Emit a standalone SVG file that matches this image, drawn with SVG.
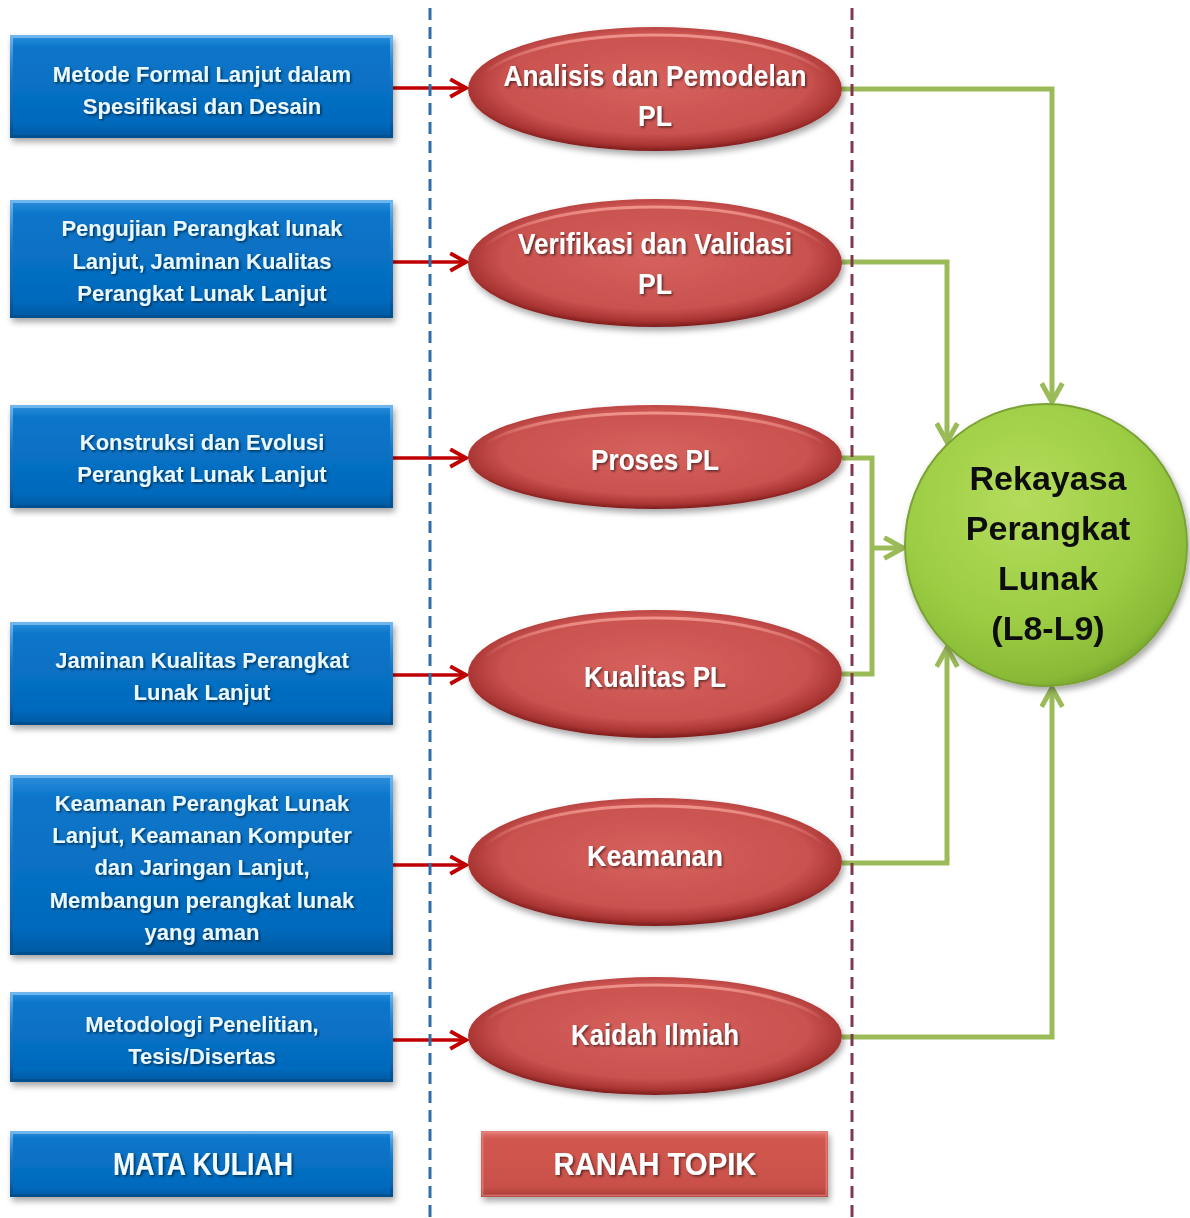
<svg xmlns="http://www.w3.org/2000/svg" width="1190" height="1218" viewBox="0 0 1190 1218">
  <defs>
    <style>
      .course rect.body { fill: url(#blueFill); }
      .course rect.rim { fill: none; stroke: url(#blueRim); stroke-width: 3; }
      .course text { font-family: "Liberation Sans", Arial, sans-serif; font-weight: bold; font-size: 22px; fill: #e9f7ff; text-anchor: middle; filter: url(#textShadow); }
      .topic ellipse.body { fill: url(#redFill); }
      .topic ellipse.rim { fill: none; stroke: url(#redRim); stroke-width: 3; }
      .topic text { font-family: "Liberation Sans", Arial, sans-serif; font-weight: bold; font-size: 29px; fill: #ffffff; text-anchor: middle; filter: url(#textShadow); }
      .legend text { font-family: "Liberation Sans", Arial, sans-serif; font-weight: bold; font-size: 31px; fill: #ffffff; text-anchor: middle; filter: url(#textShadow); }
      .hub text { font-family: "Liberation Sans", Arial, sans-serif; font-weight: bold; font-size: 34px; fill: #111111; text-anchor: middle; }
      .feed { fill: none; stroke: #c00000; stroke-width: 3.5; marker-end: url(#redHead); }
      .merge { fill: none; stroke: #9bbb59; stroke-width: 5; stroke-linejoin: miter; }
      .merge.arrow { marker-end: url(#greenHead); }
      .divider { fill: none; stroke-width: 3; stroke-dasharray: 12 7; }
    </style>

    <linearGradient id="blueFill" x1="0" y1="0" x2="0" y2="1">
      <stop offset="0" stop-color="#2f8fdc"/>
      <stop offset="0.12" stop-color="#0a76ca"/>
      <stop offset="0.85" stop-color="#046abd"/>
      <stop offset="1" stop-color="#0358a0"/>
    </linearGradient>
    <linearGradient id="blueRim" x1="0" y1="0" x2="0" y2="1">
      <stop offset="0" stop-color="#6fb6ee"/>
      <stop offset="0.5" stop-color="#1478c8" stop-opacity="0.3"/>
      <stop offset="1" stop-color="#03508f"/>
    </linearGradient>

    <radialGradient id="redFill" cx="0.5" cy="0.45" r="0.55">
      <stop offset="0" stop-color="#d6615d"/>
      <stop offset="0.75" stop-color="#c9524f"/>
      <stop offset="0.92" stop-color="#a83432"/>
      <stop offset="1" stop-color="#7c1b1b"/>
    </radialGradient>
    <linearGradient id="redRim" x1="0" y1="0" x2="0" y2="1">
      <stop offset="0" stop-color="#f39a92" stop-opacity="0.9"/>
      <stop offset="0.35" stop-color="#f39a92" stop-opacity="0"/>
      <stop offset="1" stop-color="#f39a92" stop-opacity="0"/>
    </linearGradient>

    <linearGradient id="redBar" x1="0" y1="0" x2="0" y2="1">
      <stop offset="0" stop-color="#e07a74"/>
      <stop offset="0.12" stop-color="#d2584f"/>
      <stop offset="0.85" stop-color="#c9504a"/>
      <stop offset="1" stop-color="#a43a36"/>
    </linearGradient>

    <radialGradient id="greenFill" cx="0.42" cy="0.35" r="0.7">
      <stop offset="0" stop-color="#b5dc5c"/>
      <stop offset="0.6" stop-color="#9ccd44"/>
      <stop offset="0.9" stop-color="#88ba36"/>
      <stop offset="1" stop-color="#6e9a28"/>
    </radialGradient>

    <filter id="dropShadow" x="-10%" y="-10%" width="120%" height="130%">
      <feDropShadow dx="2" dy="4" stdDeviation="3" flood-color="#000" flood-opacity="0.35"/>
    </filter>
    <filter id="textShadow" x="-5%" y="-20%" width="110%" height="150%">
      <feDropShadow dx="1.5" dy="1.5" stdDeviation="1" flood-color="#000" flood-opacity="0.55"/>
    </filter>

    <marker id="redHead" viewBox="0 0 12 12" refX="10" refY="6" markerWidth="6" markerHeight="6" markerUnits="strokeWidth" orient="auto">
      <path d="M1,1 L10,6 L1,11" fill="none" stroke="#c00000" stroke-width="2.2"/>
    </marker>
    <marker id="greenHead" viewBox="0 0 12 12" refX="10" refY="6" markerWidth="5" markerHeight="5" markerUnits="strokeWidth" orient="auto">
      <path d="M1,1 L10,6 L1,11" fill="none" stroke="#9bbb59" stroke-width="2.4"/>
    </marker>
  </defs>

  <rect width="1190" height="1218" fill="#ffffff"/>

  <!-- Connectors: course boxes into topic ellipses, topic ellipses into the hub -->
  <g id="connectors">
    <path class="feed" d="M393,88 H466"/>
    <path class="feed" d="M393,262 H466"/>
    <path class="feed" d="M393,458 H466"/>
    <path class="feed" d="M393,675 H466"/>
    <path class="feed" d="M393,865 H466"/>
    <path class="feed" d="M393,1040 H466"/>

    <path class="merge arrow" d="M842,89 H1052 V402"/>
    <path class="merge arrow" d="M842,262 H947 V442"/>
    <path class="merge" d="M842,458 H872 V674 H842"/>
    <path class="merge arrow" d="M872,548 H903"/>
    <path class="merge arrow" d="M842,863 H947 V648"/>
    <path class="merge arrow" d="M842,1037 H1052 V688"/>
  </g>

  <!-- Column dividers -->
  <g id="dividers">
    <line class="divider" x1="430" y1="8" x2="430" y2="1218" stroke="#2f6ea8"/>
    <line class="divider" x1="852" y1="8" x2="852" y2="1218" stroke="#7e3a4c"/>
  </g>

  <!-- Course boxes (MATA KULIAH) -->
  <g id="course-1" class="course" filter="url(#dropShadow)">
    <rect class="body" x="10" y="35" width="383" height="103"/>
    <rect class="rim" x="11.5" y="36.5" width="380" height="100"/>
    <text x="202" y="82">Metode Formal Lanjut dalam</text>
    <text x="202" y="114">Spesifikasi dan Desain</text>
  </g>
  <g id="course-2" class="course" filter="url(#dropShadow)">
    <rect class="body" x="10" y="200" width="383" height="118"/>
    <rect class="rim" x="11.5" y="201.5" width="380" height="115"/>
    <text x="202" y="236">Pengujian Perangkat lunak</text>
    <text x="202" y="269">Lanjut, Jaminan Kualitas</text>
    <text x="202" y="301">Perangkat Lunak Lanjut</text>
  </g>
  <g id="course-3" class="course" filter="url(#dropShadow)">
    <rect class="body" x="10" y="405" width="383" height="103"/>
    <rect class="rim" x="11.5" y="406.5" width="380" height="100"/>
    <text x="202" y="450">Konstruksi dan Evolusi</text>
    <text x="202" y="482">Perangkat Lunak Lanjut</text>
  </g>
  <g id="course-4" class="course" filter="url(#dropShadow)">
    <rect class="body" x="10" y="622" width="383" height="103"/>
    <rect class="rim" x="11.5" y="623.5" width="380" height="100"/>
    <text x="202" y="668">Jaminan Kualitas Perangkat</text>
    <text x="202" y="700">Lunak Lanjut</text>
  </g>
  <g id="course-5" class="course" filter="url(#dropShadow)">
    <rect class="body" x="10" y="775" width="383" height="180"/>
    <rect class="rim" x="11.5" y="776.5" width="380" height="177"/>
    <text x="202" y="811">Keamanan Perangkat Lunak</text>
    <text x="202" y="843">Lanjut, Keamanan Komputer</text>
    <text x="202" y="875">dan Jaringan Lanjut,</text>
    <text x="202" y="908">Membangun perangkat lunak</text>
    <text x="202" y="940">yang aman</text>
  </g>
  <g id="course-6" class="course" filter="url(#dropShadow)">
    <rect class="body" x="10" y="992" width="383" height="90"/>
    <rect class="rim" x="11.5" y="993.5" width="380" height="87"/>
    <text x="202" y="1032">Metodologi Penelitian,</text>
    <text x="202" y="1064">Tesis/Disertas</text>
  </g>

  <!-- Topic ellipses (RANAH TOPIK) -->
  <g id="topic-1" class="topic" filter="url(#dropShadow)">
    <ellipse class="body" cx="655" cy="89" rx="187" ry="62"/>
    <ellipse class="rim" cx="655" cy="90" rx="178" ry="55"/>
    <text x="655" y="86" textLength="303" lengthAdjust="spacingAndGlyphs">Analisis dan Pemodelan</text>
    <text x="655" y="126" textLength="34" lengthAdjust="spacingAndGlyphs">PL</text>
  </g>
  <g id="topic-2" class="topic" filter="url(#dropShadow)">
    <ellipse class="body" cx="655" cy="263" rx="187" ry="64"/>
    <ellipse class="rim" cx="655" cy="264" rx="178" ry="57"/>
    <text x="655" y="254" textLength="274" lengthAdjust="spacingAndGlyphs">Verifikasi dan Validasi</text>
    <text x="655" y="294" textLength="34" lengthAdjust="spacingAndGlyphs">PL</text>
  </g>
  <g id="topic-3" class="topic" filter="url(#dropShadow)">
    <ellipse class="body" cx="655" cy="457" rx="187" ry="52"/>
    <ellipse class="rim" cx="655" cy="458" rx="178" ry="45"/>
    <text x="655" y="470" textLength="128" lengthAdjust="spacingAndGlyphs">Proses PL</text>
  </g>
  <g id="topic-4" class="topic" filter="url(#dropShadow)">
    <ellipse class="body" cx="655" cy="674" rx="187" ry="64"/>
    <ellipse class="rim" cx="655" cy="675" rx="178" ry="57"/>
    <text x="655" y="687" textLength="142" lengthAdjust="spacingAndGlyphs">Kualitas PL</text>
  </g>
  <g id="topic-5" class="topic" filter="url(#dropShadow)">
    <ellipse class="body" cx="655" cy="862" rx="187" ry="64"/>
    <ellipse class="rim" cx="655" cy="863" rx="178" ry="57"/>
    <text x="655" y="866" textLength="136" lengthAdjust="spacingAndGlyphs">Keamanan</text>
  </g>
  <g id="topic-6" class="topic" filter="url(#dropShadow)">
    <ellipse class="body" cx="655" cy="1036" rx="187" ry="59"/>
    <ellipse class="rim" cx="655" cy="1037" rx="178" ry="52"/>
    <text x="655" y="1045" textLength="168" lengthAdjust="spacingAndGlyphs">Kaidah Ilmiah</text>
  </g>

  <!-- Hub circle -->
  <g id="hub" class="hub" filter="url(#dropShadow)">
    <circle cx="1046" cy="545" r="141" fill="url(#greenFill)" stroke="#7aa234" stroke-width="2"/>
    <text x="1048" y="490">Rekayasa</text>
    <text x="1048" y="540">Perangkat</text>
    <text x="1048" y="590">Lunak</text>
    <text x="1048" y="640">(L8-L9)</text>
  </g>

  <!-- Legend -->
  <g id="legend-course" class="legend course" filter="url(#dropShadow)">
    <rect class="body" x="10" y="1131" width="383" height="66"/>
    <rect class="rim" x="11.5" y="1132.5" width="380" height="63"/>
    <text x="203" y="1175" textLength="180" lengthAdjust="spacingAndGlyphs" style="font-size:31px;fill:#f2fbff">MATA KULIAH</text>
  </g>
  <g id="legend-topic" class="legend" filter="url(#dropShadow)">
    <rect x="481" y="1131" width="347" height="66" fill="url(#redBar)"/>
    <rect x="482.5" y="1132.5" width="344" height="63" fill="none" stroke="#e98b84" stroke-opacity="0.6" stroke-width="2"/>
    <text x="655" y="1175" textLength="203" lengthAdjust="spacingAndGlyphs">RANAH TOPIK</text>
  </g>
</svg>
